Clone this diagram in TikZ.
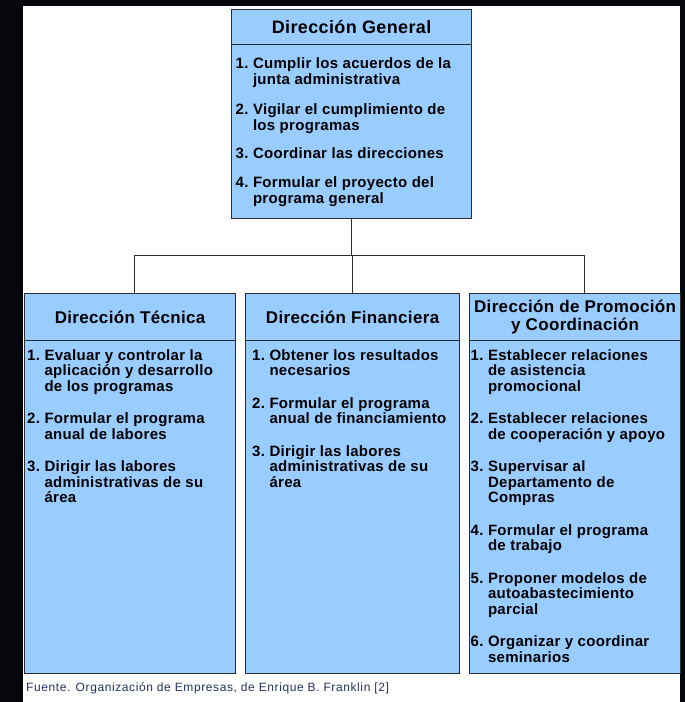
\documentclass[tikz,border=0pt]{standalone}
\usepackage{fontspec}
\setmainfont{Liberation Sans}
\newfontfamily\spfont{Liberation Sans}[LetterSpace=2]
\newfontfamily\capfont{Liberation Sans}[LetterSpace=5]
\definecolor{bgdark}{RGB}{5,7,13}
\definecolor{boxfill}{RGB}{153,204,255}
\definecolor{boxline}{RGB}{45,45,45}
\definecolor{captext}{RGB}{35,50,95}
\newcommand{\titlesize}{\spfont\bfseries\fontsize{17}{18.5}\selectfont}
\newcommand{\itemsize}{\spfont\bfseries\fontsize{15}{15.5}\selectfont}
\tikzset{
  box/.style={draw=boxline, fill=boxfill, line width=1.2pt, inner sep=0pt, anchor=north west},
  hdr/.style={box, minimum height=47pt, font=\titlesize, align=center, text=black},
  bodybox/.style={box, minimum height=333pt},
  itemtxt/.style={anchor=north west, inner sep=0pt, text=black},
  conn/.style={draw=boxline, line width=1pt},
  captxt/.style={anchor=west, inner sep=0pt, text=captext, font=\capfont\fontsize{12}{14}\selectfont}
}
\begin{document}
\begin{tikzpicture}[x=1pt,y=-1pt]
\useasboundingbox (0,0) rectangle (685,702);
\fill[bgdark] (0,0) rectangle (685,702);
\fill[white] (23,6) rectangle (680,702);

% top box
\node[box, minimum width=240pt, minimum height=35pt, font=\spfont\bfseries\fontsize{18}{20}\selectfont] (dg-h) at (231,9) {Dirección General};
\node[box, minimum width=240pt, minimum height=174pt] (dg-b) at (231,44) {};
\node[itemtxt, font={\spfont\bfseries\fontsize{15}{16}\selectfont}] (dg-t) at (235.5,56.8) {%
\begin{tabular}{@{}l@{\hspace{4.5pt}}l@{}}
1. & Cumplir los acuerdos de la\\
   & junta administrativa\\[14pt]
2. & Vigilar el cumplimiento de\\
   & los programas\\[12pt]
3. & Coordinar las direcciones\\[13pt]
4. & Formular el proyecto del\\
   & programa general
\end{tabular}};

% Direccion Tecnica
\node[hdr, minimum width=211pt] (t-h) at (24,293) {Dirección Técnica};
\node[bodybox, minimum width=211pt] (t-b) at (24,340) {};
\node[itemtxt, font=\itemsize] (t-t) at (27,349) {%
\begin{tabular}{@{}l@{\hspace{4.5pt}}l@{}}
1. & Evaluar y controlar la\\
   & aplicación y desarrollo\\
   & de los programas\\[17pt]
2. & Formular el programa\\
   & anual de labores\\[17pt]
3. & Dirigir las labores\\
   & administrativas de su\\
   & área
\end{tabular}};

% Direccion Financiera
\node[hdr, minimum width=214pt] (f-h) at (245,293) {Dirección Financiera};
\node[bodybox, minimum width=214pt] (f-b) at (245,340) {};
\node[itemtxt, font=\itemsize] (f-t) at (252,349) {%
\begin{tabular}{@{}l@{\hspace{4.5pt}}l@{}}
1. & Obtener los resultados\\
   & necesarios\\[17pt]
2. & Formular el programa\\
   & anual de financiamiento\\[17pt]
3. & Dirigir las labores\\
   & administrativas de su\\
   & área
\end{tabular}};

% Direccion de Promocion
\node[hdr, minimum width=211pt] (p-h) at (469,293) {Dirección de Promoción\\[-1pt]y Coordinación};
\node[bodybox, minimum width=211pt] (p-b) at (469,340) {};
\node[itemtxt, font=\itemsize] (p-t) at (470.5,349) {%
\begin{tabular}{@{}l@{\hspace{4.5pt}}l@{}}
1. & Establecer relaciones\\
   & de asistencia\\
   & promocional\\[17pt]
2. & Establecer relaciones\\
   & de cooperación y apoyo\\[17pt]
3. & Supervisar al\\
   & Departamento de\\
   & Compras\\[17pt]
4. & Formular el programa\\
   & de trabajo\\[17pt]
5. & Proponer modelos de\\
   & autoabastecimiento\\
   & parcial\\[17pt]
6. & Organizar y coordinar\\
   & seminarios
\end{tabular}};

% connectors
\coordinate (bar) at (351,255);
\coordinate (tj) at (134,293);
\coordinate (pj) at (584,293);
\draw[conn] (dg-b.south) -- (dg-b.south |- bar);
\draw[conn] (f-h.north |- bar) -- (f-h.north);
\draw[conn] (tj) -- (tj |- bar) -- (pj |- bar) -- (pj);

% caption
\node[captxt] (cap) at (26,688) {Fuente. Organización de Empresas, de Enrique B. Franklin [2]};
\end{tikzpicture}
\end{document}
